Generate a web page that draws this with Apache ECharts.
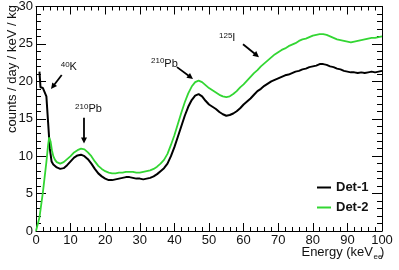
<!DOCTYPE html>
<html>
<head>
<meta charset="utf-8">
<script src="https://cdn.jsdelivr.net/npm/echarts@6/dist/echarts.min.js"></script>
<style>html,body{margin:0;padding:0;background:#fff}#c{width:399px;height:270px}</style>
</head>
<body>
<div id="c"></div>
<script>
// ---- data ----
const energy1 = [1,1.3,2,2.5,3,3.5,4,4.5,5,6,7,8,9,10,11,12,13,14,15,16,17,18,19,20,21,22,23,24,25,26,27,28,29,30,31,32,33,34,35,36,37,38,39,40,41,42,43,44,45,46,47,48,49,50,51,52,53,54,55,56,57,58,59,60,61,62,63,64,65,66,67,68,69,70,71,72,73,74,75,76,77,78,79,80,81,82,83,84,85,86,87,88,89,90,91,92,93,94,95,96,97,98,99,100];
const det1 = [21.3,19.2,19.1,19.0,18.0,14.5,11.0,9.3,8.9,8.5,8.3,8.4,8.8,9.3,9.8,10.1,10.2,10.0,9.6,9.0,8.3,7.7,7.3,7.0,6.8,6.8,6.9,7.0,7.1,7.2,7.2,7.1,7.0,7.0,6.9,7.0,7.1,7.3,7.6,8.0,8.4,9.0,10.0,11.2,12.6,14.0,15.4,16.6,17.5,18.1,18.3,18.0,17.4,16.9,16.6,16.3,15.9,15.6,15.4,15.5,15.7,16.0,16.4,16.9,17.3,17.7,18.2,18.7,19.0,19.4,19.7,20.0,20.2,20.4,20.6,20.8,20.9,21.1,21.3,21.4,21.6,21.7,21.9,22.0,22.1,22.3,22.3,22.2,22.0,21.9,21.7,21.6,21.4,21.3,21.2,21.2,21.1,21.2,21.1,21.2,21.3,21.2,21.3,21.4];
const energy2 = [0,1,2,3,3.5,3.8,4.2,4.6,5,5.5,6,7,8,9,10,11,12,13,14,15,16,17,18,19,20,21,22,23,24,25,26,27,28,29,30,31,32,33,34,35,36,37,38,39,40,41,42,43,44,45,46,47,48,49,50,51,52,53,54,55,56,57,58,59,60,61,62,63,64,65,66,67,68,69,70,71,72,73,74,75,76,77,78,79,80,81,82,83,84,85,86,87,88,89,90,91,92,93,94,95,96,97,98,99,100];
const det2 = [0,1.8,5.2,9.2,11.5,12.5,12.0,10.8,10.0,9.5,9.2,9.0,9.2,9.6,10.0,10.5,10.8,11.0,10.9,10.5,10.0,9.3,8.7,8.3,8.0,7.8,7.7,7.7,7.8,7.8,7.9,7.9,7.9,7.8,7.8,7.9,8.0,8.1,8.3,8.6,9.0,9.5,10.3,11.5,12.8,14.3,15.8,17.2,18.4,19.3,19.9,20.1,19.9,19.5,19.1,18.8,18.5,18.2,18.0,17.9,18.0,18.3,18.7,19.2,19.6,20.1,20.6,21.1,21.5,22.0,22.4,22.8,23.2,23.6,23.9,24.2,24.4,24.7,24.9,25.1,25.4,25.6,25.7,25.9,26.1,26.2,26.3,26.3,26.2,26.0,25.8,25.6,25.5,25.4,25.3,25.2,25.3,25.4,25.5,25.6,25.7,25.8,25.8,25.9,26.0];
const xTicks = {min:0, max:100, interval:10};
const yTicks = {min:0, max:30, interval:5};
const seriesNames = ['Det-1','Det-2'];
const xTitle = ['Energy (keV','ee',')'];
const yTitle = 'counts / day / keV / kg';
const annotations = [
  {sup:'40', main:'K', at:[7.14,21.9], from:[7.43,20.84], to:[4.34,18.98]},
  {sup:'210', main:'Pb', at:[11.3,16.33], from:[13.87,15.13], to:[13.87,11.68]},
  {sup:'210', main:'Pb', at:[33.24,22.37], from:[40.75,21.9], to:[45.38,20.31]},
  {sup:'125', main:'I', at:[52.89,25.75], from:[59.83,24.96], to:[64.45,23.23]}
];
// --------------------------------------
const zip = (xs, ys) => xs.map((x,i)=>[x, ys[i]]);
const FONT = 'Liberation Sans, Arial, Helvetica, sans-serif';
const chart = echarts.init(document.getElementById('c'), null, {renderer:'canvas'});

function xAxisDef(pos, labels){
  return {type:'value', position:pos, min:xTicks.min, max:xTicks.max, interval:xTicks.interval,
    axisLine:{show:true, onZero:false, lineStyle:{color:'#000', width:1}},
    axisTick:{show:true, inside:true, length:8, lineStyle:{color:'#000', width:1}},
    minorTick:{show:true, splitNumber:5, length:4, lineStyle:{color:'#000', width:1}},
    splitLine:{show:false},
    axisLabel:{show:labels, color:'#111', fontSize:13, fontFamily:FONT, margin:3}};
}
function yAxisDef(pos, labels){
  return {type:'value', position:pos, min:yTicks.min, max:yTicks.max, interval:yTicks.interval,
    axisLine:{show:true, onZero:false, lineStyle:{color:'#000', width:1}},
    axisTick:{show:true, inside:true, length:10, lineStyle:{color:'#000', width:1}},
    minorTick:{show:true, splitNumber:5, length:5, lineStyle:{color:'#000', width:1}},
    splitLine:{show:false},
    axisLabel:{show:labels, color:'#111', fontSize:13, fontFamily:FONT, margin:3}};
}

chart.setOption({
  backgroundColor:'#fff',
  animation:false,
  grid:{left:36, right:17, top:5, bottom:39, containLabel:false},
  xAxis:[xAxisDef('bottom', true), xAxisDef('top', false)],
  yAxis:[yAxisDef('left', true), yAxisDef('right', false)],
  legend:{show:true, orient:'vertical', left:312, top:176, itemWidth:14, itemHeight:2, itemGap:7,
    icon:'rect', data:seriesNames,
    textStyle:{fontSize:13, fontWeight:'bold', color:'#111', fontFamily:FONT}},
  series:[
    {name:seriesNames[0], type:'line', data:zip(energy1, det1), showSymbol:false, symbol:'none',
      lineStyle:{color:'#000', width:2}, itemStyle:{color:'#000'}, z:2},
    {name:seriesNames[1], type:'line', data:zip(energy2, det2), showSymbol:false, symbol:'none',
      lineStyle:{color:'#33d633', width:1.8}, itemStyle:{color:'#33d633'}, z:3}
  ]
});

// annotations placed via the chart's own coordinate conversion
const els = [];
const toPx = p => chart.convertToPixel({xAxisIndex:0, yAxisIndex:0}, p);
annotations.forEach(a => {
  const p = toPx(a.at);
  els.push({type:'text', x:p[0], y:p[1], style:{
    text:'{s|'+a.sup+'}{m|'+a.main+'}', align:'left', verticalAlign:'middle', fill:'#111',
    rich:{s:{fontSize:8, fontFamily:FONT, verticalAlign:'top', fill:'#111'},
          m:{fontSize:11, fontFamily:FONT, fill:'#111', lineHeight:13}}}});
  const f = toPx(a.from), t = toPx(a.to);
  const dx = t[0]-f[0], dy = t[1]-f[1], L = Math.hypot(dx,dy), ux = dx/L, uy = dy/L;
  const hl = 6, hw = 3;
  const bx = t[0]-ux*hl, by = t[1]-uy*hl;
  els.push({type:'line', shape:{x1:f[0], y1:f[1], x2:bx+ux*1, y2:by+uy*1}, style:{stroke:'#000', lineWidth:1.8}});
  els.push({type:'polygon', shape:{points:[[t[0],t[1]],[bx-uy*hw, by+ux*hw],[bx+uy*hw, by-ux*hw]]}, style:{fill:'#000'}});
});
// axis titles
els.push({type:'text', x:373, y:252, style:{text:xTitle[0], align:'right', verticalAlign:'middle', fontSize:13, fontFamily:FONT, fill:'#111'}});
els.push({type:'text', x:373.5, y:257, style:{text:xTitle[1], align:'left', verticalAlign:'middle', fontSize:8, fontFamily:FONT, fill:'#111'}});
els.push({type:'text', x:380, y:252, style:{text:xTitle[2], align:'left', verticalAlign:'middle', fontSize:13, fontFamily:FONT, fill:'#111'}});
els.push({type:'text', x:12, y:5, rotation:Math.PI/2, style:{text:yTitle, align:'right', verticalAlign:'middle', fontSize:13, fontFamily:FONT, fill:'#111'}});
chart.setOption({graphic:{elements:els}});
</script>
</body>
</html>
